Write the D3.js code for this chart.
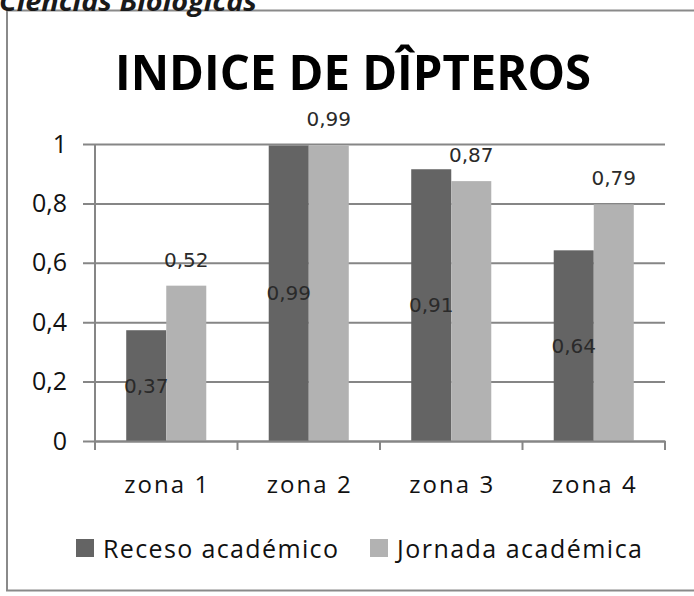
<!DOCTYPE html>
<html>
<head>
<meta charset="utf-8">
<script src="https://cdn.jsdelivr.net/npm/d3@7"></script>
<style>
  body { margin: 0; background: #fff; }
  svg { display: block; }
</style>
</head>
<body>
<div id="chart"></div>
<script>
// data
const zonas = ["zona 1", "zona 2", "zona 3", "zona 4"];
const series = ["Receso académico", "Jornada académica"];
const receso = [0.373, 0.995, 0.915, 0.642];
const jornada = [0.523, 0.995, 0.875, 0.797];
const recesoLabels = ["0,37", "0,99", "0,91", "0,64"];
const jornadaLabels = ["0,52", "0,99", "0,87", "0,79"];
const yTicks = [0, 0.2, 0.4, 0.6, 0.8, 1];

const width = 694;
const height = 596;
const plot = { left: 95, right: 665, top: 144, bottom: 441 };
const colors = ["#646464", "#b2b2b2"];
const gridColor = "#868686";
const font = "'Open Sans', sans-serif";

const locale = d3.formatLocale({ decimal: ",", thousands: ".", grouping: [3], currency: ["", ""] });
const tickFormat = locale.format(".1~f");

const svg = d3
  .select("#chart")
  .append("svg")
  .attr("width", width)
  .attr("height", height)
  .style("font-family", font);

svg.append("rect").attr("width", width).attr("height", height).attr("fill", "#fff");

// frame of the embedded chart
svg
  .append("rect")
  .attr("x", 7)
  .attr("y", 10.5)
  .attr("width", 720)
  .attr("height", 580)
  .attr("fill", "none")
  .attr("stroke", "#8a8a8a")
  .attr("stroke-width", 2);

// page header, cut off at the top
svg
  .append("text")
  .attr("x", -1)
  .attr("y", 11)
  .attr("textLength", 258)
  .attr("lengthAdjust", "spacingAndGlyphs")
  .style("font-size", "27px")
  .style("font-weight", "bold")
  .style("font-style", "italic")
  .style("fill", "#1a1a1a")
  .text("Ciencias Biologicas");

svg
  .append("text")
  .attr("x", 115)
  .attr("y", 90)
  .attr("textLength", 476)
  .attr("lengthAdjust", "spacingAndGlyphs")
  .style("font-size", "49px")
  .style("font-weight", "bold")
  .style("fill", "#000")
  .text("INDICE DE DÎPTEROS");

const xScale = d3.scaleBand().domain(zonas).range([plot.left, plot.right]);
const xInner = d3
  .scaleBand()
  .domain(series)
  .range([0, xScale.bandwidth()])
  .paddingOuter(0.78);
const yScale = d3.scaleLinear().domain([0, 1]).range([plot.bottom, plot.top]);

// gridlines + y labels
const yAxis = d3
  .axisLeft(yScale)
  .tickValues(yTicks)
  .tickFormat(tickFormat)
  .tickSize(-(plot.right - 83))
  .tickPadding(16);
const yAxisGroup = svg.append("g").attr("transform", "translate(83,0)").call(yAxis);
yAxisGroup.select(".domain").remove();
yAxisGroup.selectAll(".tick line").attr("stroke", gridColor).attr("stroke-width", 2);
yAxisGroup
  .selectAll(".tick text")
  .style("font-family", font)
  .style("font-size", "25px")
  .style("fill", "#111");

// bars
const rows = zonas.map((z, i) => ({ zona: z, values: [receso[i], jornada[i]] }));
const groups = svg
  .selectAll(".zona")
  .data(rows)
  .enter()
  .append("g")
  .attr("transform", (d) => `translate(${xScale(d.zona)},0)`);

groups
  .selectAll("rect")
  .data((d) => d.values.map((v, j) => ({ key: series[j], value: v, j })))
  .enter()
  .append("rect")
  .attr("x", (d) => xInner(d.key))
  .attr("y", (d) => yScale(d.value))
  .attr("width", xInner.bandwidth())
  .attr("height", (d) => plot.bottom - yScale(d.value))
  .attr("fill", (d) => colors[d.j]);

// axis lines
svg
  .append("line")
  .attr("x1", plot.left)
  .attr("x2", plot.left)
  .attr("y1", plot.top)
  .attr("y2", plot.bottom)
  .attr("stroke", gridColor)
  .attr("stroke-width", 2);

const xAxis = d3.axisBottom(xScale).tickSize(0).tickPadding(35);
const xAxisGroup = svg.append("g").attr("transform", `translate(0,${plot.bottom})`).call(xAxis);
xAxisGroup.select(".domain").attr("stroke", gridColor).attr("stroke-width", 2);
xAxisGroup
  .selectAll(".tick text")
  .attr("textLength", 84)
  .attr("lengthAdjust", "spacing")
  .style("font-family", font)
  .style("font-size", "24px")
  .style("fill", "#111");

const boundaries = zonas.map((z) => xScale(z)).concat([plot.right]);
svg
  .selectAll(".xtick")
  .data(boundaries)
  .enter()
  .append("line")
  .attr("x1", (d) => d)
  .attr("x2", (d) => d)
  .attr("y1", plot.bottom)
  .attr("y2", plot.bottom + 9)
  .attr("stroke", gridColor)
  .attr("stroke-width", 2);

// data labels
groups
  .append("text")
  .attr("x", (d) => xInner(series[0]) + xInner.bandwidth() / 2)
  .attr("y", (d) => (yScale(d.values[0]) + plot.bottom) / 2)
  .attr("dy", "0.35em")
  .attr("text-anchor", "middle")
  .style("font-family", "'DejaVu Sans', sans-serif")
  .style("font-size", "20px")
  .style("fill", "#2a2a2a")
  .text((d, i) => recesoLabels[i]);

groups
  .append("text")
  .attr("x", (d) => xInner(series[1]) + xInner.bandwidth() / 2)
  .attr("y", (d) => yScale(d.values[1]) - 26)
  .attr("dy", "0.35em")
  .attr("text-anchor", "middle")
  .style("font-family", "'DejaVu Sans', sans-serif")
  .style("font-size", "20px")
  .style("fill", "#2a2a2a")
  .text((d, i) => jornadaLabels[i]);

// legend
const legendItems = [
  { name: series[0], x: 76, w: 235 },
  { name: series[1], x: 370, w: 245 },
];
const legend = svg.append("g");
legendItems.forEach((item, i) => {
  legend
    .append("rect")
    .attr("x", item.x)
    .attr("y", 539)
    .attr("width", 18)
    .attr("height", 18)
    .attr("fill", colors[i]);
  legend
    .append("text")
    .attr("x", item.x + 27)
    .attr("y", 558)
    .attr("textLength", item.w)
    .attr("lengthAdjust", "spacing")
    .style("font-size", "25px")
    .style("fill", "#111")
    .text(item.name);
});
</script>
</body>
</html>
